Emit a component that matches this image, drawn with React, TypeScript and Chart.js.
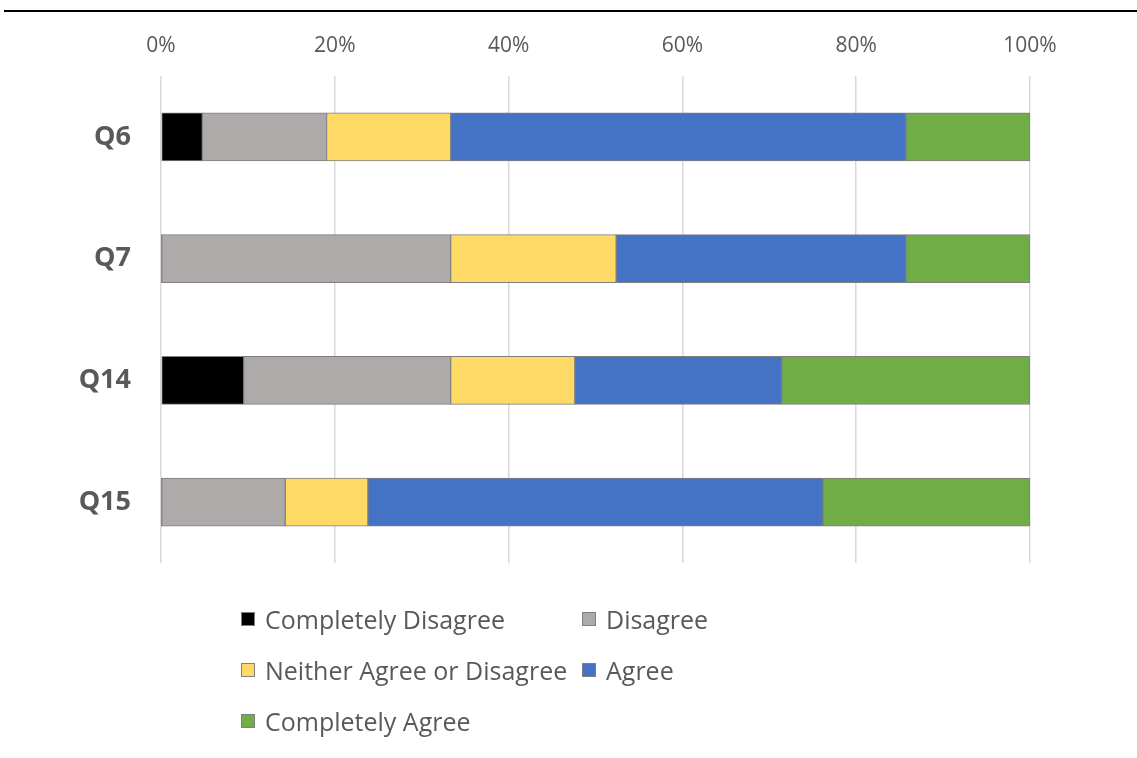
import React, { useEffect, useRef } from "react";
import { Chart, registerables } from "chart.js";

Chart.register(...registerables);

const categories = ["Q6", "Q7", "Q14", "Q15"];
const seriesNames = [
  "Completely Disagree",
  "Disagree",
  "Neither Agree or Disagree",
  "Agree",
  "Completely Agree",
];
const completelyDisagree = [4.76, 0, 9.52, 0];
const disagree = [14.29, 33.33, 23.81, 14.29];
const neither = [14.29, 19.05, 14.29, 9.52];
const agree = [52.38, 33.33, 23.81, 52.38];
const completelyAgree = [14.29, 14.29, 28.57, 23.81];
const seriesColors = ["#000000", "#AEAAAA", "#FFD966", "#4472C4", "#70AD47"];
const xTicks = [0, 20, 40, 60, 80, 100];

const FONT = "'Open Sans', 'Noto Sans', sans-serif";

const legendPos = [
  { x: 241, y: 619 },
  { x: 582, y: 619 },
  { x: 241, y: 670 },
  { x: 582, y: 670 },
  { x: 241, y: 721 },
];

export default function App() {
  const ref = useRef<HTMLCanvasElement | null>(null);
  useEffect(() => {
    if (!ref.current) return;
    const seriesData = [completelyDisagree, disagree, neither, agree, completelyAgree];
    const chart = new Chart(ref.current, {
      type: "bar",
      data: {
        labels: categories,
        datasets: seriesNames.map((name, i) => ({
          label: name,
          data: seriesData[i],
          backgroundColor: seriesColors[i],
          borderColor: "#7f7f7f",
          borderWidth: (c: any) => (c.raw === 0 ? 0 : 1),
          borderSkipped: false,
          barThickness: 48,
        })),
      },
      options: {
        animation: false,
        responsive: false,
        indexAxis: "y",
        layout: { padding: { left: 0, top: 0, right: 107, bottom: 195 } },
        plugins: { legend: { display: false }, tooltip: { enabled: false } },
        scales: {
          x: {
            stacked: true,
            position: "top",
            min: 0,
            max: 100,
            afterFit: (s: any) => {
              s.height = 76;
            },
            afterBuildTicks: (s: any) => {
              s.ticks = xTicks.map((v) => ({ value: v }));
            },
            ticks: {
              callback: (v: any) => v + "%",
              color: "#595959",
              font: { family: FONT, size: 21 },
              padding: 17,
            },
            grid: { color: "#d9d9d9", lineWidth: 1.5, drawTicks: false },
            border: { display: false },
          },
          y: {
            stacked: true,
            afterFit: (s: any) => {
              s.width = 161;
            },
            ticks: {
              color: "#595959",
              font: { family: FONT, size: 27, weight: "bold" },
              padding: 30,
            },
            grid: { display: false, drawTicks: false },
            border: { display: false },
          },
        },
      },
    });
    return () => chart.destroy();
  }, []);

  return (
    <div
      style={{
        position: "fixed",
        left: 0,
        top: 0,
        width: 1137,
        height: 758,
        background: "#fff",
        overflow: "hidden",
      }}
    >
      <div
        style={{
          position: "absolute",
          left: 4,
          top: 10,
          width: 1133,
          height: 2,
          background: "#000",
        }}
      />
      <canvas
        ref={ref}
        width={1137}
        height={758}
        style={{ position: "absolute", left: 0, top: 0 }}
      />
      {seriesNames.map((name, i) => (
        <div
          key={name}
          style={{
            position: "absolute",
            left: legendPos[i].x,
            top: legendPos[i].y - 16,
            height: 32,
            display: "flex",
            alignItems: "center",
            fontFamily: FONT,
            fontSize: 25,
            color: "#595959",
            whiteSpace: "nowrap",
          }}
        >
          <span
            style={{
              display: "inline-block",
              width: 12,
              height: 12,
              background: seriesColors[i],
              border: "1px solid #7f7f7f",
              marginRight: 10,
            }}
          />
          {name}
        </div>
      ))}
    </div>
  );
}
